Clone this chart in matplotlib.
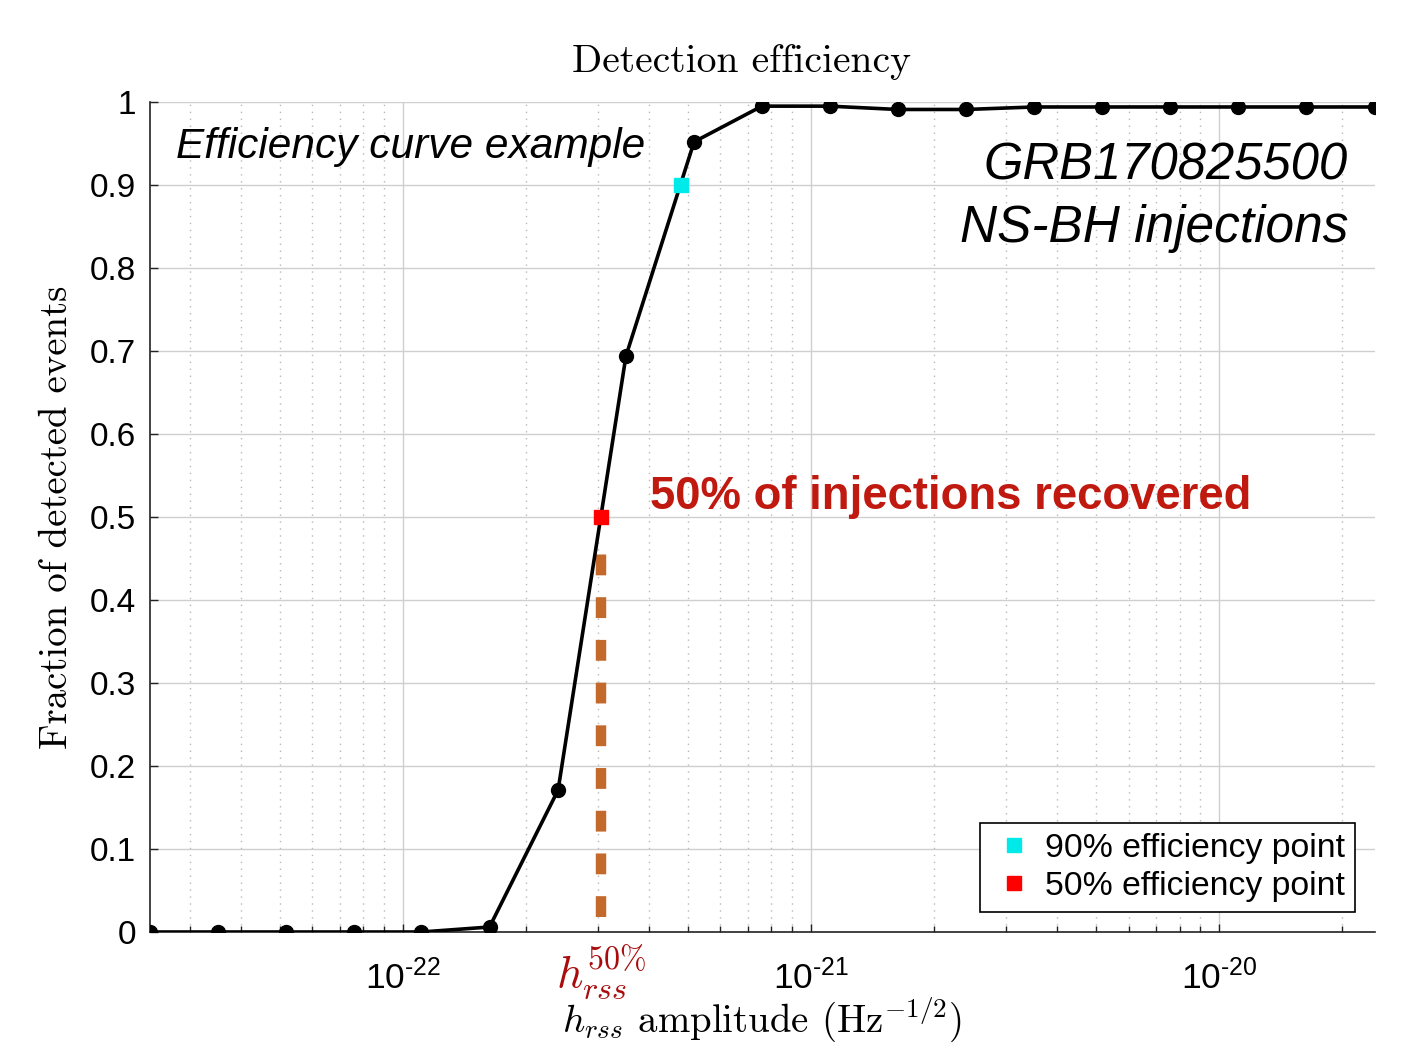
import matplotlib
matplotlib.use('Agg')
import matplotlib.pyplot as plt
from matplotlib.ticker import LogLocator, NullFormatter, FixedLocator, FixedFormatter

# injection amplitudes (Hz^-1/2) and detected fraction
hrss = [2.40e-23, 3.52e-23, 5.17e-23, 7.58e-23, 1.11e-22, 1.63e-22, 2.40e-22,
        3.52e-22, 5.17e-22, 7.58e-22, 1.11e-21, 1.63e-21, 2.40e-21, 3.52e-21,
        5.17e-21, 7.58e-21, 1.11e-20, 1.63e-20, 2.41e-20]
efficiency = [0.0, 0.0, 0.0, 0.0, 0.0, 0.006, 0.171, 0.694, 0.952, 0.995,
              0.995, 0.991, 0.991, 0.994, 0.994, 0.994, 0.994, 0.994, 0.994]

# interpolated efficiency points
h90, eff90 = 4.80e-22, 0.9
h50, eff50 = 3.06e-22, 0.5
dash_top, dash_bottom = 0.457, 0.018

x_ticks = [1e-22, 1e-21, 1e-20]
x_tick_labels = [r'10$^{\text{-22}}$', r'10$^{\text{-21}}$', r'10$^{\text{-20}}$']
y_ticks = [0, 0.1, 0.2, 0.3, 0.4, 0.5, 0.6, 0.7, 0.8, 0.9, 1.0]
y_tick_labels = ['0', '0.1', '0.2', '0.3', '0.4', '0.5', '0.6', '0.7', '0.8', '0.9', '1']

plt.rcParams['font.family'] = 'Liberation Sans'
plt.rcParams['mathtext.fontset'] = 'custom'
plt.rcParams['mathtext.rm'] = 'Liberation Sans'
plt.rcParams['mathtext.it'] = 'Liberation Sans:italic'
plt.rcParams['mathtext.bf'] = 'Liberation Sans:bold'

fig = plt.figure(figsize=(14.11, 10.43), dpi=100)
ax = fig.add_axes([150 / 1411, 1 - 932 / 1043, 1225 / 1411, 830 / 1043])

# main efficiency curve
ax.plot(hrss, efficiency, color='black', linewidth=2.6, marker='o',
        markersize=10, zorder=4)

# dashed marker under the 50% point
ax.plot([h50, h50], [dash_bottom, dash_top], color='#c4692c', linewidth=7.5,
        linestyle=(0, (2.0, 2.1)), zorder=3)

ax.plot([h90], [eff90], linestyle='none', marker='s', markersize=10,
        color='#00eaea', label='90% efficiency point', zorder=5)
ax.plot([h50], [eff50], linestyle='none', marker='s', markersize=10,
        color='#ff0000', label='50% efficiency point', zorder=5)

ax.set_xscale('log')
ax.set_xlim(hrss[0], hrss[-1])
ax.set_ylim(0, 1)

ax.xaxis.set_major_locator(FixedLocator(x_ticks))
ax.xaxis.set_major_formatter(FixedFormatter(x_tick_labels))
ax.xaxis.set_minor_locator(LogLocator(base=10, subs=[2, 3, 4, 5, 6, 7, 8, 9], numticks=20))
ax.xaxis.set_minor_formatter(NullFormatter())
ax.yaxis.set_major_locator(FixedLocator(y_ticks))
ax.yaxis.set_major_formatter(FixedFormatter(y_tick_labels))

ax.tick_params(axis='both', which='major', direction='in', length=6, width=1,
               color='#222222')
ax.tick_params(axis='x', which='major', pad=20, labelsize=25.5)
ax.tick_params(axis='y', which='major', pad=10, labelsize=24)
ax.tick_params(axis='x', which='minor', direction='in', length=4, width=1, color='#222222')
ax.tick_params(top=False, right=False, which='both')

ax.grid(True, which='major', color='#cfcfcf', linewidth=1, linestyle='-')
ax.grid(True, which='minor', axis='x', color='#b8b8b8', linewidth=1, linestyle=(0, (1, 4)))
ax.set_axisbelow(True)

for side in ['top', 'right']:
    ax.spines[side].set_visible(False)
for side in ['left', 'bottom']:
    ax.spines[side].set_color('#222222')
    ax.spines[side].set_linewidth(1.2)

# title and labels in Computer Modern
fig.text(741 / 1411, 1 - 62 / 1043, 'Detection efficiency', family='cmr10',
         fontsize=28.5, ha='center', va='center')
fig.text(57 / 1411, 1 - 517 / 1043, 'Fraction of detected events', family='cmr10',
         fontsize=28, rotation=90, ha='center', va='center')
fig.text(762 / 1411, 1 - 1020 / 1043, r'$h_{rss}$ amplitude (Hz$^{-1/2}$)',
         family='cmr10', math_fontfamily='cm', fontsize=28, ha='center', va='center')

# annotations
ax.text(0.021, 0.946, 'Efficiency curve example', transform=ax.transAxes,
        fontsize=30.5, style='italic', ha='left', va='center')
ax.text(0.978, 0.923, 'GRB170825500', transform=ax.transAxes,
        fontsize=36.5, style='italic', ha='right', va='center')
ax.text(0.978, 0.847, 'NS-BH injections', transform=ax.transAxes,
        fontsize=37, style='italic', ha='right', va='center')
ax.text(0.408, 0.524, '50% of injections recovered', transform=ax.transAxes,
        fontsize=32.8, weight='bold', color='#c0190f', ha='left', va='center')
ax.text(h50, -0.048, r'$h_{rss}^{\mathrm{50\%}}$', math_fontfamily='cm',
        fontsize=33, color='#a80c0c', ha='center', va='center', clip_on=False)

leg = ax.legend(loc='lower right', fontsize=24.3, frameon=True, fancybox=False,
                edgecolor='black', framealpha=1, borderaxespad=0.6,
                handlelength=1.43, handletextpad=0.19, borderpad=0.3,
                labelspacing=0.2)
leg.get_frame().set_linewidth(1.2)

fig.savefig('out.png', dpi=100)
